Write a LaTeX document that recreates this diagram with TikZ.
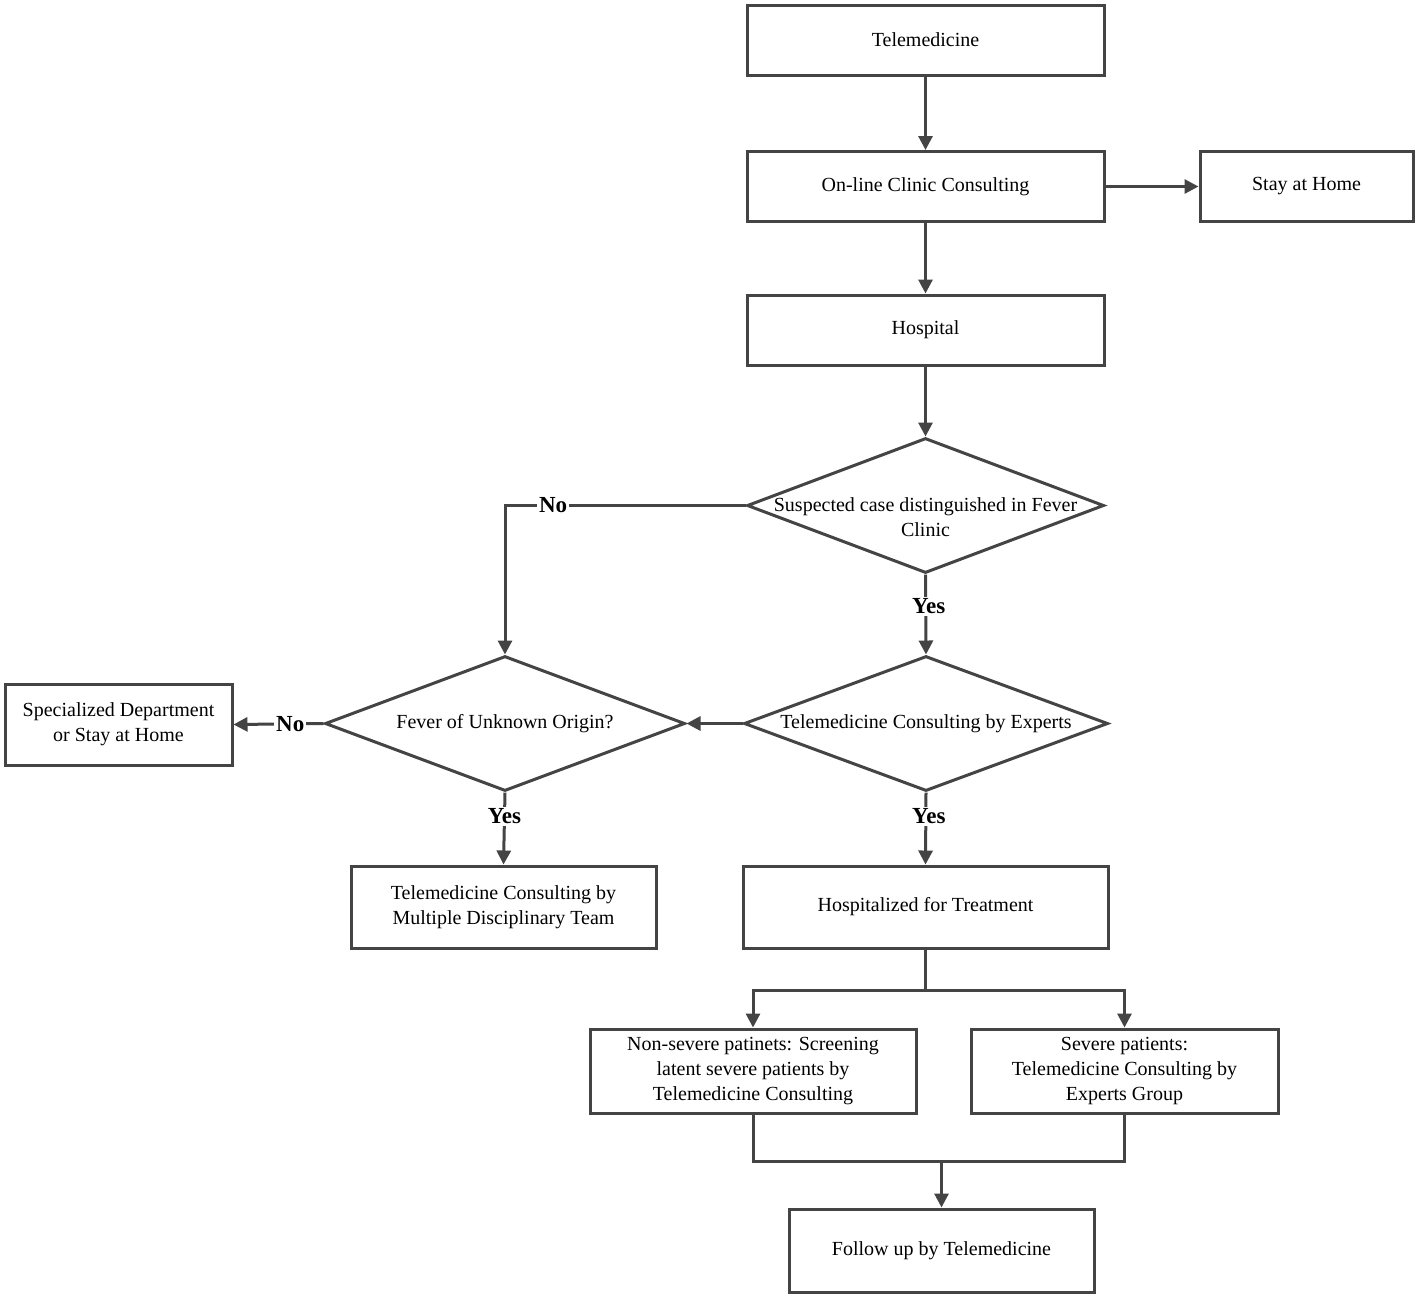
\documentclass[tikz,border=0pt]{standalone}
\usepackage{fontspec}
\setmainfont{Liberation Serif}
\usetikzlibrary{shapes.geometric,arrows.meta}
\definecolor{ln}{RGB}{68,68,68}
\begin{document}
\begin{tikzpicture}[x=0.5pt,y=-0.5pt,
  font=\fontsize{10}{12.5}\selectfont,
  box/.style={draw=ln, line width=1.5pt, fill=white, align=center, inner sep=2pt},
  dia/.style={diamond, draw=ln, line width=1.5pt, fill=white, inner sep=0pt, minimum height=67.5pt},
  arr/.style={draw=ln, line width=1.5pt, -{Triangle[length=7pt,width=7pt]}},
  plain/.style={draw=ln, line width=1.5pt},
  lbl/.style={fill=white, font=\bfseries\fontsize{11.5}{13}\selectfont, inner sep=1pt}]
\useasboundingbox (0,0) rectangle (1418,1298);
\node[box, minimum width=178.5pt, minimum height=35pt] (tele) at (925.5,40) {Telemedicine};
\node[box, minimum width=178.5pt, minimum height=35pt] (online) at (925.5,186.5) {On-line Clinic Consulting};
\node[box, minimum width=106.5pt, minimum height=35pt] (stay) at (1306.5,186.5) {Stay at Home};
\node[box, minimum width=178.5pt, minimum height=35pt] (hosp) at (925.5,330) {Hospital};
\node[dia, minimum width=178.5pt, label={[align=center,yshift=-6pt]center:Suspected case distinguished in Fever\\Clinic}] (d1) at (925.5,505.5) {};
\node[dia, minimum width=182pt, label={[align=center]center:Telemedicine Consulting by Experts}] (d2) at (926,723.5) {};
\node[dia, minimum width=180pt, label={[align=center]center:Fever of Unknown Origin?}] (d3) at (505,723.5) {};
\node[box, minimum width=113.5pt, minimum height=40.5pt] (spec) at (118.5,724.5) {Specialized Department\\or Stay at Home};
\node[box, minimum width=152.5pt, minimum height=41pt] (mdt) at (503.5,907) {Telemedicine Consulting by\\Multiple Disciplinary Team};
\node[box, minimum width=182.5pt, minimum height=41pt] (hfor) at (925.5,907) {Hospitalized for Treatment};
\node[box, minimum width=163pt, minimum height=42pt] (nons) at (753,1071) {Non-severe patinets: Screening\\latent severe patients by\\Telemedicine Consulting};
\node[box, minimum width=153.5pt, minimum height=42pt] (sev) at (1124.5,1071) {Severe patients:\\Telemedicine Consulting by\\Experts Group};
\node[box, minimum width=152.5pt, minimum height=41.5pt] (fol) at (941.5,1250.5) {Follow up by Telemedicine};
\coordinate (split) at (925.5,990);
\coordinate (merge) at (941.5,1161);
\draw[arr] (tele) -- (online);
\draw[arr] (online) -- (stay);
\draw[arr] (online) -- (hosp);
\draw[arr] (hosp) -- (d1);
\draw[arr] (d1.south) -- node[lbl, pos=0.4, xshift=1.5pt]{Yes} (d2.north);
\draw[arr] (d1.west) -- node[lbl, pos=0.8]{No} (d1.west -| d3.north) -- (d3.north);
\draw[arr] (d2.west) -- (d3.east);
\draw[arr] (d3.west) -- node[lbl, pos=0.37]{No} (spec.east);
\draw[arr] (d3.south) -- node[lbl, pos=0.33]{Yes} (mdt.north);
\draw[arr] (d2.south) -- node[lbl, pos=0.33, xshift=1.5pt]{Yes} (hfor.north);
\draw[plain] (hfor.south) -- (split);
\draw[arr] (split) -| (nons.north);
\draw[arr] (split) -| (sev.north);
\draw[plain] (nons.south) |- (merge);
\draw[plain] (sev.south) |- (merge);
\draw[arr] (merge) -- (fol.north);
\end{tikzpicture}
\end{document}
